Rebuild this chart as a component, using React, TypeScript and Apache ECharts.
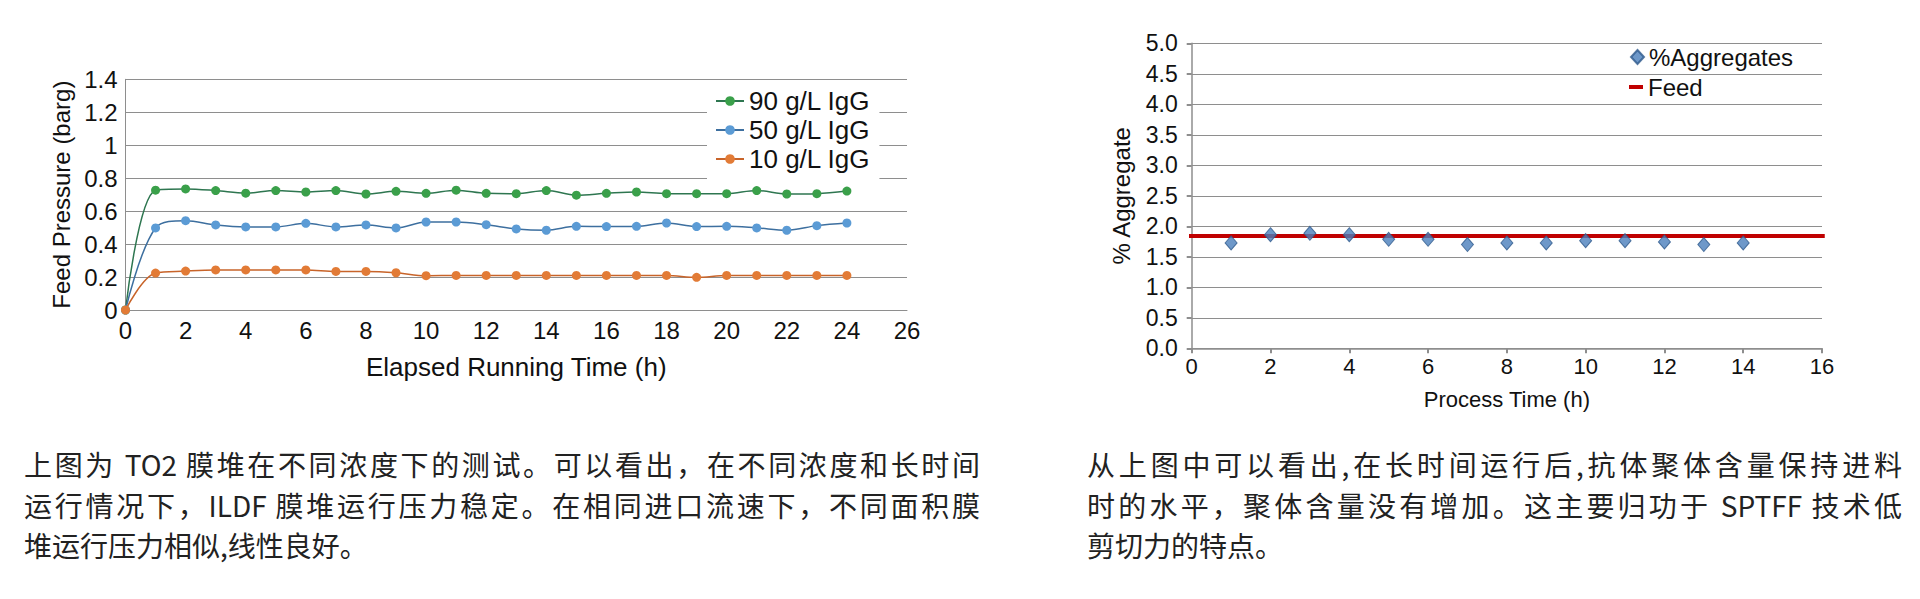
import React, { useEffect, useRef } from "react";
import * as echarts from "echarts";

// ---------- data ----------
const elapsedHours = [0, 1, 2, 3, 4, 5, 6, 7, 8, 9, 10, 11, 12, 13, 14, 15, 16, 17, 18, 19, 20, 21, 22, 23, 24];
const igg90 = [0, 0.727, 0.735, 0.725, 0.709, 0.725, 0.716, 0.725, 0.704, 0.72, 0.708, 0.727, 0.708, 0.706, 0.725, 0.697, 0.708, 0.716, 0.706, 0.706, 0.706, 0.725, 0.704, 0.706, 0.722];
const igg50 = [0, 0.498, 0.542, 0.516, 0.504, 0.504, 0.526, 0.504, 0.516, 0.498, 0.534, 0.534, 0.518, 0.492, 0.484, 0.508, 0.506, 0.508, 0.528, 0.506, 0.508, 0.498, 0.484, 0.512, 0.528];
const igg10 = [0, 0.224, 0.236, 0.243, 0.243, 0.243, 0.243, 0.234, 0.234, 0.226, 0.208, 0.21, 0.21, 0.21, 0.21, 0.21, 0.21, 0.21, 0.21, 0.198, 0.21, 0.21, 0.21, 0.21, 0.21];
const concentrationNames = ["90 g/L IgG", "50 g/L IgG", "10 g/L IgG"];

const processHours = [1, 2, 3, 4, 5, 6, 7, 8, 9, 10, 11, 12, 13, 14];
const aggregates = [1.727, 1.863, 1.885, 1.863, 1.787, 1.787, 1.7, 1.727, 1.727, 1.765, 1.765, 1.743, 1.7, 1.727];
const feedLevel = 1.84;
const feedSpan = [-0.32, 16.07];

const leftParagraph = [
  "上图为 TO2 膜堆在不同浓度下的测试。可以看出，在不同浓度和长时间",
  "运行情况下，ILDF 膜堆运行压力稳定。在相同进口流速下，不同面积膜",
  "堆运行压力相似,线性良好。",
];
const rightParagraph = [
  "从上图中可以看出,在长时间运行后,抗体聚体含量保持进料",
  "时的水平，聚体含量没有增加。这主要归功于 SPTFF 技术低",
  "剪切力的特点。",
];

// ---------- styles ----------
const FONT = '"Liberation Sans", Arial, sans-serif';
const TEXT = "#111111";
const GRID = "#8e8e8e";
const markerColors = ["#3aa04a", "#5b9bd5", "#e27b36"];
const lineColors = ["#2e7650", "#3d6f9f", "#c8642a"];
const concentrationData = [igg90, igg50, igg10];

function buildOption() {
  const lineSeries = concentrationNames.map((name, si) => ({
    type: "line",
    name,
    xAxisIndex: 0,
    yAxisIndex: 0,
    data: elapsedHours.map((h, i) => [h, concentrationData[si][i]]),
    smooth: 0.35,
    symbol: "circle",
    symbolSize: 9,
    showSymbol: true,
    lineStyle: { color: lineColors[si], width: 1.5 },
    itemStyle: { color: markerColors[si], borderWidth: 0 },
    emphasis: { disabled: true },
    z: 2 + si,
  }));

  return {
    animation: false,
    backgroundColor: "#ffffff",
    grid: [
      { left: 125.5, top: 79.3, width: 781.5, height: 230.7, containLabel: false, outerBoundsMode: "none" },
      { left: 1191.7, top: 43.3, width: 630.3, height: 305, containLabel: false, outerBoundsMode: "none" },
    ],
    xAxis: [
      {
        gridIndex: 0,
        type: "value",
        min: 0,
        max: 26,
        interval: 2,
        name: "Elapsed Running Time (h)",
        nameLocation: "middle",
        nameGap: 44,
        nameTextStyle: { fontFamily: FONT, fontSize: 26, color: TEXT },
        axisLine: { show: true, lineStyle: { color: GRID, width: 1 } },
        axisTick: { show: false },
        axisLabel: { fontFamily: FONT, fontSize: 24, color: TEXT, margin: 8 },
        splitLine: { show: false },
      },
      {
        gridIndex: 1,
        type: "value",
        min: 0,
        max: 16,
        interval: 2,
        name: "Process Time (h)",
        nameLocation: "middle",
        nameGap: 40,
        nameTextStyle: { fontFamily: FONT, fontSize: 22, color: TEXT },
        axisLine: { show: true, lineStyle: { color: GRID, width: 1.5 } },
        axisTick: { show: true, length: 5, lineStyle: { color: GRID, width: 2 } },
        axisLabel: { fontFamily: FONT, fontSize: 22, color: TEXT, margin: 7 },
        splitLine: { show: false },
      },
    ],
    yAxis: [
      {
        gridIndex: 0,
        type: "value",
        min: 0,
        max: 1.4,
        interval: 0.2,
        name: "Feed Pressure (barg)",
        nameLocation: "middle",
        nameRotate: 90,
        nameGap: 52,
        nameTextStyle: { fontFamily: FONT, fontSize: 24, color: TEXT },
        axisLine: { show: true, lineStyle: { color: GRID, width: 1 } },
        axisTick: { show: false },
        axisLabel: { fontFamily: FONT, fontSize: 24, color: TEXT, margin: 8 },
        splitLine: { show: true, lineStyle: { color: GRID, width: 1 } },
      },
      {
        gridIndex: 1,
        type: "value",
        min: 0,
        max: 5,
        interval: 0.5,
        name: "% Aggregate",
        nameLocation: "middle",
        nameRotate: 90,
        nameGap: 58,
        nameTextStyle: { fontFamily: FONT, fontSize: 24, color: TEXT },
        axisLine: { show: true, lineStyle: { color: GRID, width: 1.5 } },
        axisTick: { show: true, length: 5, lineStyle: { color: GRID, width: 2 } },
        axisLabel: {
          fontFamily: FONT,
          fontSize: 23,
          color: TEXT,
          margin: 14,
          formatter: (v: number) => v.toFixed(1),
        },
        splitLine: { show: true, lineStyle: { color: GRID, width: 1 } },
      },
    ],
    legend: [
      {
        data: concentrationNames,
        orient: "vertical",
        left: 707,
        top: 85,
        padding: [2, 9, 8, 8],
        itemGap: 1,
        itemWidth: 28,
        itemHeight: 12,
        backgroundColor: "#ffffff",
        selectedMode: false,
        textStyle: { fontFamily: FONT, fontSize: 26, color: TEXT, lineHeight: 28 },
      },
      {
        data: [{ name: "%Aggregates" }],
        left: 1630,
        top: 44,
        padding: 0,
        itemWidth: 13,
        itemHeight: 14,
        selectedMode: false,
        textStyle: { fontFamily: FONT, fontSize: 24, color: TEXT, lineHeight: 26 },
      },
      {
        data: [{ name: "Feed", icon: "rect" }],
        left: 1629,
        top: 74,
        padding: 0,
        itemWidth: 14,
        itemHeight: 4,
        selectedMode: false,
        textStyle: { fontFamily: FONT, fontSize: 24, color: TEXT, lineHeight: 26 },
      },
    ],
    series: [
      ...lineSeries,
      {
        type: "line",
        name: "Feed",
        xAxisIndex: 1,
        yAxisIndex: 1,
        data: feedSpan.map((x) => [x, feedLevel]),
        symbol: "none",
        clip: false,
        lineStyle: { color: "#c00000", width: 4 },
        itemStyle: { color: "#c00000" },
        emphasis: { disabled: true },
        z: 2,
      },
      {
        type: "scatter",
        name: "%Aggregates",
        xAxisIndex: 1,
        yAxisIndex: 1,
        data: processHours.map((h, i) => [h, aggregates[i]]),
        symbol: "diamond",
        symbolSize: [12, 14],
        itemStyle: { color: "#4a7ebb", borderColor: "#2f5a8c", borderWidth: 1 },
        emphasis: { disabled: true },
        z: 3,
      },
    ],
  };
}

const LINE_TOP = 444;
const LINE_STEP = 40.5;
const PARA_FONT = 28;

function Paragraph({ lines, left, width }: { lines: string[]; left: number; width: number }) {
  return (
    <>
      {lines.map((line, i) => {
        const full = i < lines.length - 1;
        return (
          <div
            key={i}
            style={{
              position: "absolute",
              left,
              top: LINE_TOP + i * LINE_STEP,
              width,
              height: LINE_STEP,
              fontFamily: '"Noto Sans CJK SC", sans-serif',
              fontSize: PARA_FONT,
              lineHeight: `${LINE_STEP}px`,
              color: "#222222",
              whiteSpace: "nowrap",
              textAlign: full ? "justify" : "left",
              textAlignLast: full ? "justify" : "left",
            }}
          >
            {line}
          </div>
        );
      })}
    </>
  );
}

export default function App() {
  const ref = useRef<HTMLDivElement>(null);
  useEffect(() => {
    if (!ref.current) return;
    const chart = echarts.init(ref.current, null, { renderer: "svg" });
    chart.setOption(buildOption() as any);
    return () => chart.dispose();
  }, []);
  return (
    <div
      style={{
        position: "absolute",
        left: 0,
        top: 0,
        width: 1920,
        height: 599,
        background: "#ffffff",
        overflow: "hidden",
      }}
    >
      <div ref={ref} style={{ position: "absolute", left: 0, top: 0, width: 1920, height: 430 }} />
      <Paragraph lines={leftParagraph} left={24} width={956} />
      <Paragraph lines={rightParagraph} left={1087} width={815} />
    </div>
  );
}
